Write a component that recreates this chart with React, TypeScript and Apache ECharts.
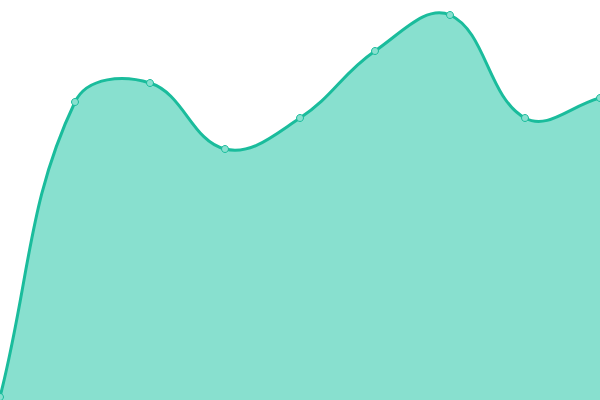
import React, { useEffect, useRef } from 'react';
import * as echarts from 'echarts';

const categories = ['1', '2', '3', '4', '5', '6', '7', '8', '9'];
const values = [3, 298, 317, 251, 282, 349, 385, 282, 302];

const lineColor = '#1abc9c';
const fillColor = '#88e0cf';
const tension = 0.4;

// cardinal-like spline through the points (control points from neighbours)
function splinePath(pts: number[][], t: number) {
    const n = pts.length;
    const cps = pts.map((p, i) => {
        const prev = pts[Math.max(i - 1, 0)];
        const next = pts[Math.min(i + 1, n - 1)];
        const d01 = Math.hypot(p[0] - prev[0], p[1] - prev[1]);
        const d12 = Math.hypot(next[0] - p[0], next[1] - p[1]);
        const sum = d01 + d12 || 1;
        const fa = t * d01 / sum;
        const fb = t * d12 / sum;
        return {
            inX: p[0] - fa * (next[0] - prev[0]),
            inY: p[1] - fa * (next[1] - prev[1]),
            outX: p[0] + fb * (next[0] - prev[0]),
            outY: p[1] + fb * (next[1] - prev[1])
        };
    });
    let d = `M${pts[0][0]},${pts[0][1]}`;
    for (let i = 1; i < n; i++) {
        const a = cps[i - 1];
        const b = cps[i];
        d += ` C${a.outX},${a.outY} ${b.inX},${b.inY} ${pts[i][0]},${pts[i][1]}`;
    }
    return d;
}

const App = () => {
    const chartRef = useRef<HTMLDivElement>(null);

    useEffect(() => {
        document.body.style.margin = '0';
        if (!chartRef.current) return;
        const myChart = echarts.init(chartRef.current, null, { renderer: 'svg' });

        myChart.setOption({
            animation: false,
            grid: { left: 0, right: 0, top: 0, bottom: 0 },
            xAxis: {
                type: 'category',
                boundaryGap: false,
                data: categories,
                show: false
            },
            yAxis: {
                type: 'value',
                min: 0,
                max: 400,
                show: false
            },
            series: [
                {
                    type: 'custom',
                    clip: false,
                    data: values.map((v, i) => [i, v]),
                    renderItem: (params: any, api: any) => {
                        if (params.dataIndex !== 0) return null;
                        const pts = values.map((v, i) => api.coord([i, v]));
                        const d = splinePath(pts, tension);
                        const base = api.coord([0, 0])[1];
                        const last = pts[pts.length - 1];
                        return {
                            type: 'group',
                            children: [
                                {
                                    type: 'path',
                                    shape: { pathData: `${d} L${last[0]},${base} L${pts[0][0]},${base} Z` },
                                    style: { fill: fillColor }
                                },
                                {
                                    type: 'path',
                                    shape: { pathData: d },
                                    style: { fill: 'none', stroke: lineColor, lineWidth: 3 }
                                }
                            ]
                        };
                    }
                },
                {
                    type: 'scatter',
                    data: values,
                    symbol: 'circle',
                    symbolSize: 7,
                    z: 3,
                    itemStyle: { color: fillColor, borderColor: lineColor, borderWidth: 1, opacity: 1 }
                }
            ]
        });

        return () => {
            myChart.dispose();
        };
    }, []);

    return <div ref={chartRef} style={{ width: '600px', height: '400px' }} />;
};

export default App;
